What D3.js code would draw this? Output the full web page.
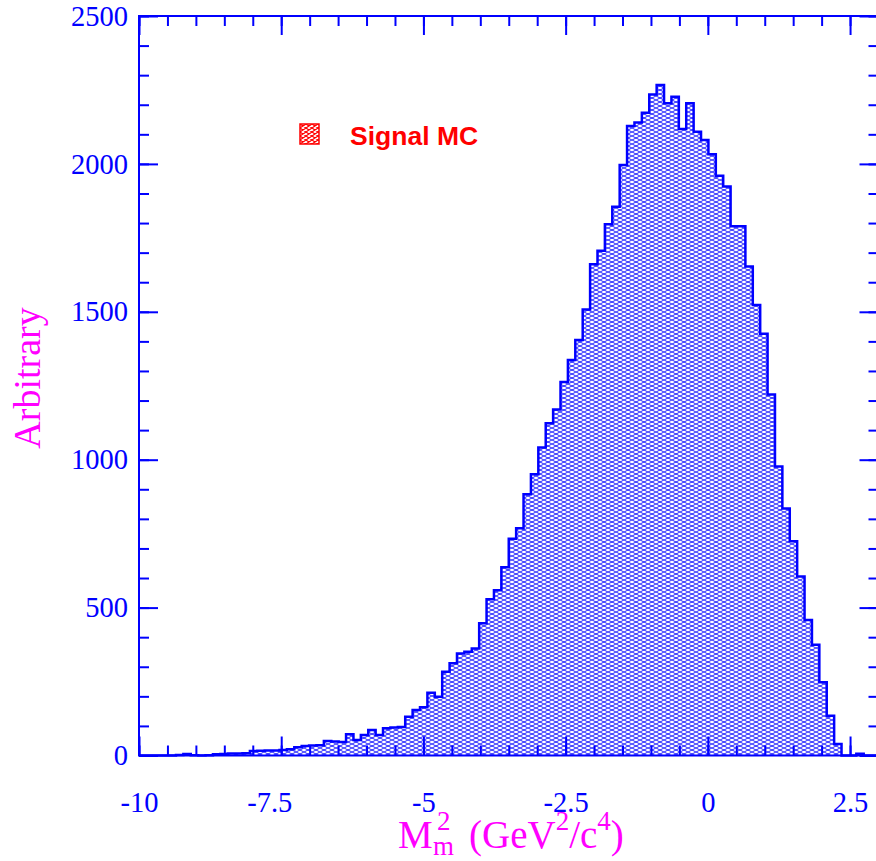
<!DOCTYPE html>
<html>
<head>
<meta charset="utf-8">
<script src="https://cdn.jsdelivr.net/npm/d3@7"></script>
<style>
  html, body { margin: 0; padding: 0; background: #fff; }
  svg { display: block; }
  .axis text { font-family: "Liberation Serif", "Times New Roman", serif; font-size: 28.5px; fill: #0000ff; }
  .axis line { stroke: #0000ff; stroke-width: 2px; }
  .axis path { display: none; }
</style>
</head>
<body>
<div class="container"></div>
<script>
// histogram of missing mass squared, 100 bins from -10 to 3
var binStart = -10;
var binWidth = 0.13;
var counts = [
  0, 0, 0, 0, 0, 2, 5, 1, 0, 1, 4, 5, 7, 7, 8, 15, 16, 17, 17, 19,
  21, 28, 32, 34, 35, 49, 47, 46, 72, 52, 69, 86, 69, 92, 95, 96, 131, 154, 163, 212,
  199, 283, 312, 345, 351, 362, 447, 528, 559, 636, 733, 768, 883, 951, 1041, 1123, 1170, 1263, 1337, 1405,
  1508, 1661, 1706, 1796, 1855, 1996, 2128, 2140, 2173, 2235, 2267, 2205, 2227, 2118, 2205, 2109, 2081, 2033, 1960, 1924,
  1789, 1789, 1653, 1523, 1426, 1220, 977, 835, 724, 605, 458, 374, 248, 134, 39, 0, 0, 6, 0, 0
];
var xTicks = [-10, -7.5, -5, -2.5, 0, 2.5];
var yTicks = [0, 500, 1000, 1500, 2000, 2500];
var legendLabel = 'Signal MC';

var width = 876;
var height = 861;
var plotLeft = 139, plotRight = 878.5, plotTop = 16, plotBottom = 755.5;
var blue = '#0000ff', magenta = '#ff00ff', red = '#ff0000';

var translate = function(x, y) {
  return 'translate(' + x + ',' + y + ')';
};

var draw = function() {
  var svg = d3.select('.container').append('svg')
    .attr('width', width)
    .attr('height', height);

  var x = d3.scaleLinear().domain([-10, 3]).range([plotLeft, plotRight]);
  var y = d3.scaleLinear().domain([0, 2500]).range([plotBottom, plotTop]);

  var defs = svg.append('defs');
  var hatch = function(id, color, w, h, sw) {
    var p = defs.append('pattern')
      .attr('id', id)
      .attr('patternUnits', 'userSpaceOnUse')
      .attr('width', w)
      .attr('height', h);
    p.append('rect').attr('width', w).attr('height', h).attr('fill', '#fff');
    p.append('path')
      .attr('d', 'M0,0L' + w + ',' + h + 'M0,' + h + 'L' + w + ',0')
      .attr('stroke', color)
      .attr('stroke-width', sw)
      .attr('fill', 'none');
  };
  hatch('hatchBlue', blue, 8, 4, 0.85);
  hatch('hatchRed', red, 6, 4, 1.1);

  // step points: left edge of each bin, plus closing edge
  var pts = counts.map(function(c, i) { return { x: binStart + i * binWidth, c: c }; });
  pts.push({ x: binStart + counts.length * binWidth, c: counts[counts.length - 1] });

  var area = d3.area()
    .curve(d3.curveStepAfter)
    .x(function(d) { return x(d.x); })
    .y0(y(0))
    .y1(function(d) { return y(d.c); });

  var line = d3.line()
    .curve(d3.curveStepAfter)
    .x(function(d) { return x(d.x); })
    .y(function(d) { return y(d.c); });

  svg.append('path')
    .datum(pts)
    .attr('d', area)
    .attr('fill', 'url(#hatchBlue)');

  svg.append('path')
    .datum(pts)
    .attr('d', line)
    .attr('fill', 'none')
    .attr('stroke', blue)
    .attr('stroke-width', 2.5);

  // minor ticks
  var xMinor = d3.range(-10, 3.01, 0.5);
  var yMinor = d3.range(0, 2501, 100);

  svg.append('g').attr('class', 'axis').attr('transform', translate(0, plotBottom))
    .call(d3.axisBottom(x).tickValues(xMinor).tickSize(-10).tickFormat(''));
  svg.append('g').attr('class', 'axis').attr('transform', translate(0, plotTop))
    .call(d3.axisTop(x).tickValues(xMinor).tickSize(-10).tickFormat(''));
  svg.append('g').attr('class', 'axis').attr('transform', translate(plotLeft, 0))
    .call(d3.axisLeft(y).tickValues(yMinor).tickSize(-10).tickFormat(''));
  svg.append('g').attr('class', 'axis').attr('transform', translate(plotRight, 0))
    .call(d3.axisRight(y).tickValues(yMinor).tickSize(-10).tickFormat(''));

  // major ticks with labels
  var xAxisG = svg.append('g').attr('class', 'axis').attr('transform', translate(0, plotBottom))
    .call(d3.axisBottom(x).tickValues(xTicks).tickSize(-19).tickPadding(36)
      .tickFormat(function(d) { return String(d); }));
  // the -7.5 label sits left of its tick in the original
  xAxisG.selectAll('.tick text')
    .attr('dx', function(d) { return d === -7.5 ? -12 : 0; });
  svg.append('g').attr('class', 'axis').attr('transform', translate(0, plotTop))
    .call(d3.axisTop(x).tickValues(xTicks).tickSize(-19).tickFormat(''));
  svg.append('g').attr('class', 'axis').attr('transform', translate(plotLeft, 0))
    .call(d3.axisLeft(y).tickValues(yTicks).tickSize(-19).tickPadding(11)
      .tickFormat(function(d) { return String(d); }));
  svg.append('g').attr('class', 'axis').attr('transform', translate(plotRight, 0))
    .call(d3.axisRight(y).tickValues(yTicks).tickSize(-19).tickFormat(''));

  // frame
  svg.append('rect')
    .attr('x', plotLeft).attr('y', plotTop)
    .attr('width', plotRight - plotLeft).attr('height', plotBottom - plotTop)
    .attr('fill', 'none')
    .attr('stroke', blue)
    .attr('stroke-width', 2);

  // axis titles
  var serif = '"Liberation Serif", "Times New Roman", serif';
  svg.append('text')
    .attr('transform', translate(40, 378) + ' rotate(-90)')
    .attr('text-anchor', 'middle')
    .attr('font-family', serif)
    .attr('font-size', 38)
    .attr('fill', magenta)
    .text('Arbitrary');

  var xt = svg.append('text')
    .attr('font-family', serif)
    .attr('fill', magenta);
  xt.append('tspan').attr('x', 398).attr('y', 848).attr('font-size', 39).text('M');
  xt.append('tspan').attr('x', 437).attr('y', 830).attr('font-size', 27).text('2');
  xt.append('tspan').attr('x', 433).attr('y', 855).attr('font-size', 27).text('m');
  xt.append('tspan').attr('x', 469).attr('y', 848).attr('font-size', 39).text('(GeV');
  xt.append('tspan').attr('dy', -18).attr('font-size', 27).text('2');
  xt.append('tspan').attr('dy', 18).attr('font-size', 39).text('/c');
  xt.append('tspan').attr('dy', -18).attr('font-size', 27).text('4');
  xt.append('tspan').attr('dy', 18).attr('font-size', 39).text(')');

  // legend
  var lg = svg.append('g').attr('transform', translate(300, 124));
  lg.append('rect')
    .attr('width', 19).attr('height', 20)
    .attr('fill', 'url(#hatchRed)')
    .attr('stroke', red)
    .attr('stroke-width', 1.5);
  lg.append('text')
    .attr('x', 50).attr('y', 21)
    .attr('font-family', '"Liberation Sans", Arial, sans-serif')
    .attr('font-weight', 'bold')
    .attr('font-size', 26.5)
    .attr('fill', red)
    .text(legendLabel);
};

window.onload = draw;
</script>
</body>
</html>
